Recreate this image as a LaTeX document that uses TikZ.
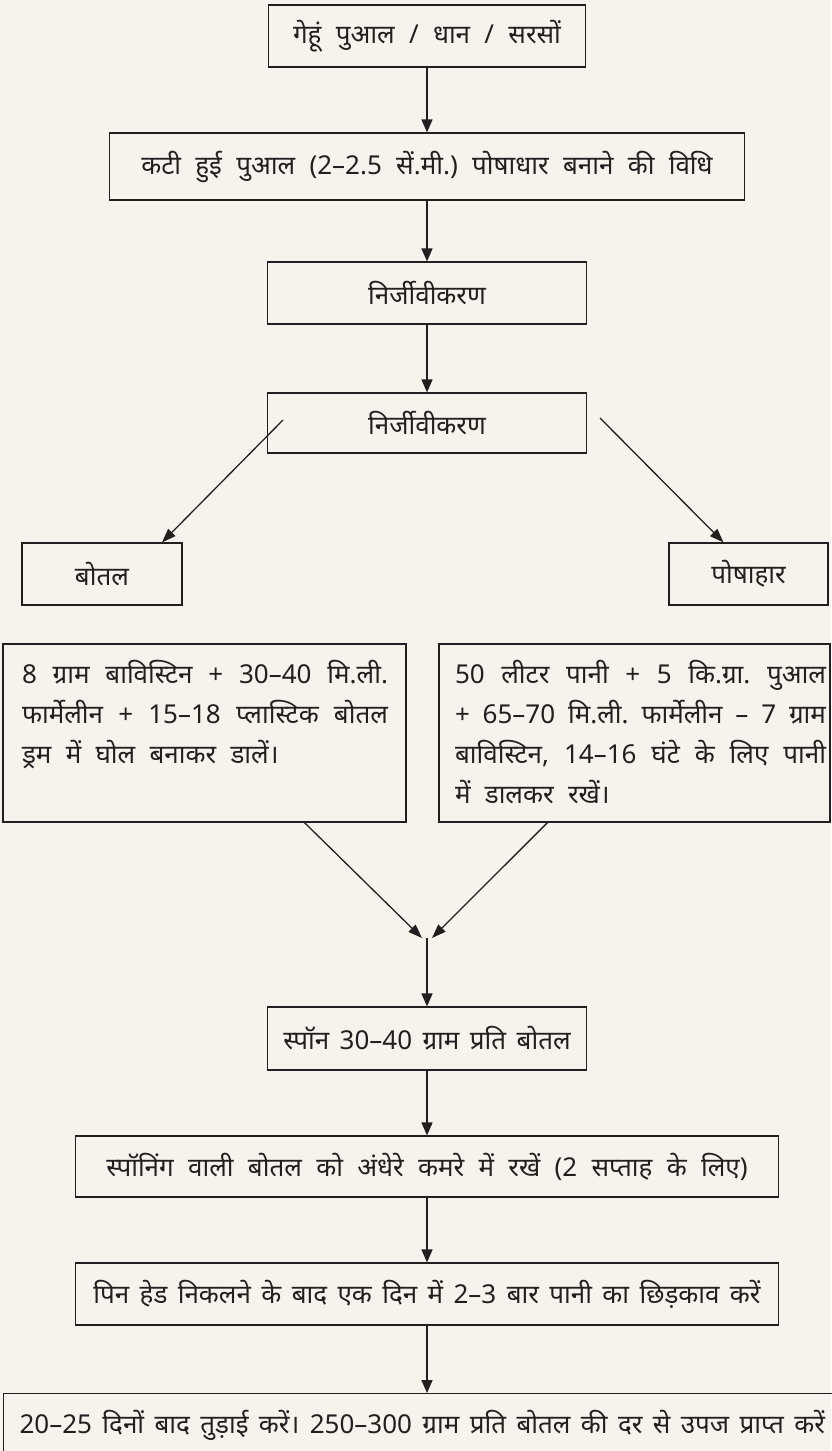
\documentclass[tikz,border=0pt]{standalone}
\usepackage{fontspec}
\newfontfamily\hindi[Script=Devanagari]{Noto Sans}
\usetikzlibrary{arrows.meta}
\definecolor{paper}{HTML}{F7F3EC}
\definecolor{ink}{HTML}{231F20}
\newcommand\widespace{\spaceskip=0.55em plus 0.3em minus 0.2em\relax}
\newcommand\snugspace{\spaceskip=0.4em plus 0.2em minus 0.1em\relax}

\begin{document}
\begin{tikzpicture}[x=1pt,y=-1pt]
	\tikzstyle{every node}+=[inner sep=0pt, text=ink, font=\hindi\fontsize{26}{40}\selectfont\frenchspacing\widespace]
	\tikzstyle{stepbox}=[draw=ink, line width=1.2pt, minimum height=62pt]
	\tikzstyle{flow}=[draw=ink, line width=1.6pt, -{Triangle[length=13pt,width=11pt]}]
	\tikzstyle{slant}=[draw=ink, line width=1.3pt, -{Triangle[length=14pt,width=10pt]}]
	\useasboundingbox (0,0) rectangle (831,1451);
	\fill [paper] (0,0) rectangle (831,1451);
	\node [stepbox, minimum width=317pt] (n1) at (427,36) {गेहूं पुआल / धान / सरसों};
	\node [stepbox, minimum width=635pt, minimum height=67pt] (n2) at (427,166.5) {कटी हुई पुआल (2–2.5 सें.मी.) पोषाधार बनाने की विधि};
	\node [stepbox, minimum width=319pt] (n3) at (427,293) {निर्जीवीकरण};
	\node [stepbox, minimum width=319pt, minimum height=60pt] (n4) at (427,423) {निर्जीवीकरण};
	\node [stepbox, minimum width=160pt] (botal) at (102,574) {बोतल};
	\node [stepbox, minimum width=159pt] (poshahar) at (748.5,574) {पोषाहार};
	\node [stepbox, inner ysep=16pt] (tL) at (204.5,733) {\hspace*{19pt}\begin{minipage}[t][146pt][t]{366pt}8 ग्राम बाविस्टिन + 30–40 मि.ली.\linebreak फार्मेलीन + 15–18 प्लास्टिक बोतल\linebreak ड्रम में घोल बनाकर डालें।\end{minipage}\hspace*{18pt}};
	\node [stepbox, inner ysep=16pt] (tR) at (634.5,733) {\hspace*{16pt}\begin{minipage}[t][146pt][t]{371pt}50 लीटर पानी + 5 कि.ग्रा. पुआल\linebreak + 65–70 मि.ली. फार्मेलीन – 7 ग्राम\linebreak बाविस्टिन, 14–16 घंटे के लिए पानी\linebreak में डालकर रखें।\end{minipage}\hspace*{4pt}};
	\node [stepbox, minimum width=319pt, minimum height=63pt] (spawn) at (427,1038.5) {\snugspace स्पॉन 30–40 ग्राम प्रति बोतल};
	\node [stepbox, minimum width=703pt, minimum height=61pt] (dark) at (427,1166.5) {स्पॉनिंग वाली बोतल को अंधेरे कमरे में रखें (2 सप्ताह के लिए)};
	\node [stepbox, minimum width=703pt] (pin) at (427,1294) {\snugspace पिन हेड निकलने के बाद एक दिन में 2–3 बार पानी का छिड़काव करें};
	\node [stepbox, anchor=north west, minimum height=64pt, text width=868pt, inner xsep=16pt, align=left] (harvest) at (3,1393) {\snugspace 20–25 दिनों बाद तुड़ाई करें। 250–300 ग्राम प्रति बोतल की दर से उपज प्राप्त करें};
	\coordinate (cutL) at (283,420);
	\coordinate (cutR) at (600,418);
	\coordinate (merge) at (427,938);
	\draw [flow] (n1) -- (n2);
	\draw [flow] (n2) -- (n3);
	\draw [flow] (n3) -- (n4);
	\draw [slant] (cutL) -- ([xshift=60pt]botal.north);
	\draw [slant] (cutR) -- ([xshift=-25pt]poshahar.north);
	\draw [slant] ([xshift=100pt]tL.south) -- ([xshift=-5pt]merge);
	\draw [slant] ([xshift=-87pt]tR.south) -- ([xshift=5pt]merge);
	\draw [flow] (merge) -- (spawn);
	\draw [flow] (spawn) -- (dark);
	\draw [flow] (dark) -- (pin);
	\draw [flow] (pin) -- (pin.south |- harvest.north);
\end{tikzpicture}
\end{document}
